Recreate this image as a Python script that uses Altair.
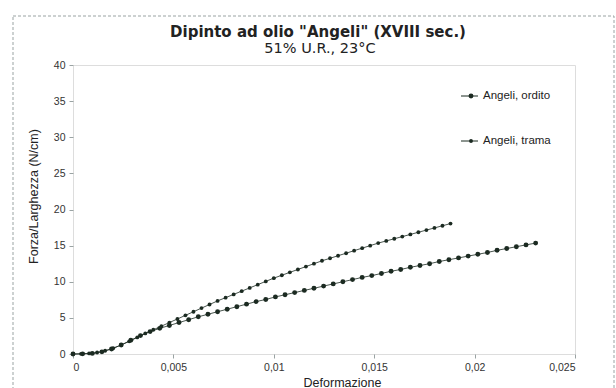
import altair as alt
import pandas as pd

# Tensile test readings: strain (Deformazione) vs force per unit width (N/cm)
series_names = ["Angeli, ordito", "Angeli, trama"]
title_text = 'Dipinto ad olio "Angeli" (XVIII sec.)'
subtitle_text = "51% U.R., 23°C"

ordito_strain = [
    0.0, 0.00048, 0.00096, 0.00144, 0.00192, 0.0024, 0.00288, 0.00336, 0.00384, 0.00432,
    0.0048, 0.00528, 0.00576, 0.00624, 0.00672, 0.0072, 0.00768, 0.00816, 0.00864, 0.00912,
    0.0096, 0.01008, 0.01056, 0.01104, 0.01152, 0.012, 0.01248, 0.01296, 0.01344, 0.01392,
    0.0144, 0.01488, 0.01536, 0.01584, 0.01632, 0.0168, 0.01728, 0.01776, 0.01824, 0.01872,
    0.0192, 0.01968, 0.02016, 0.02064, 0.02112, 0.0216, 0.02208, 0.02256, 0.02304,
]
ordito_force = [
    0.0, 0.02, 0.08, 0.3, 0.7, 1.25, 1.9, 2.55, 3.1, 3.55,
    3.95, 4.35, 4.75, 5.15, 5.5, 5.85, 6.2, 6.55, 6.9, 7.25,
    7.55, 7.9, 8.2, 8.5, 8.8, 9.1, 9.4, 9.7, 10.0, 10.3,
    10.6, 10.85, 11.15, 11.45, 11.7, 12.0, 12.25, 12.5, 12.8, 13.05,
    13.3, 13.55, 13.8, 14.05, 14.35, 14.6, 14.85, 15.1, 15.35,
]

trama_strain = [
    0.0, 0.0004, 0.0008, 0.0012, 0.0016, 0.002, 0.0024, 0.0028, 0.0032, 0.0036,
    0.004, 0.0044, 0.0048, 0.0052, 0.0056, 0.006, 0.0064, 0.0068, 0.0072, 0.0076,
    0.008, 0.0084, 0.0088, 0.0092, 0.0096, 0.01, 0.0104, 0.0108, 0.0112, 0.0116,
    0.012, 0.0124, 0.0128, 0.0132, 0.0136, 0.014, 0.0144, 0.0148, 0.0152, 0.0156,
    0.016, 0.0164, 0.0168, 0.0172, 0.0176, 0.018, 0.0184, 0.0188,
]
trama_force = [
    0.0, 0.02, 0.08, 0.2, 0.45, 0.8, 1.25, 1.75, 2.3, 2.85,
    3.35, 3.85, 4.35, 4.85, 5.35, 5.85, 6.35, 6.85, 7.35, 7.8,
    8.25, 8.7, 9.15, 9.6, 10.05, 10.5, 10.9, 11.3, 11.7, 12.1,
    12.5, 12.9, 13.25, 13.6, 13.95, 14.3, 14.65, 15.0, 15.35, 15.65,
    15.95, 16.25, 16.55, 16.85, 17.15, 17.45, 17.75, 18.05,
]

x_ticks = [0, 0.005, 0.01, 0.015, 0.02, 0.025]
y_ticks = [0, 5, 10, 15, 20, 25, 30, 35, 40]

df = pd.concat(
    [
        pd.DataFrame({"Deformazione": ordito_strain, "Forza": ordito_force, "Serie": series_names[0]}),
        pd.DataFrame({"Deformazione": trama_strain, "Forza": trama_force, "Serie": series_names[1]}),
    ],
    ignore_index=True,
)

FONT = "Liberation Sans"
TITLE_FONT = "DejaVu Sans"
INK = "#1b2a21"
FRAME = "#9aa3a3"
TEXT = "#222222"
SIZE_RANGE = [24, 15]

x_enc = alt.X(
    "Deformazione:Q",
    scale=alt.Scale(domain=[0, 0.025], nice=False, zero=False),
    axis=alt.Axis(
        values=x_ticks,
        labelExpr="replace(format(datum.value, '.3~f'), '.', ',')",
        title="Deformazione",
        domain=False,
        grid=False,
        tickColor=FRAME,
        tickSize=4,
        labelFontSize=10.5,
        labelPadding=4,
        titleFontSize=12.5,
        titleFontWeight="normal",
        titleX=269,
        titleY=32,
        titleAlign="center",
        titleBaseline="alphabetic",
        labelFont=FONT,
        titleFont=FONT,
        labelColor="#333333",
        titleColor=TEXT,
    ),
)
y_enc = alt.Y(
    "Forza:Q",
    scale=alt.Scale(domain=[0, 40], nice=False),
    axis=alt.Axis(
        values=y_ticks,
        title="Forza/Larghezza (N/cm)",
        domain=False,
        grid=False,
        tickColor=FRAME,
        tickSize=4,
        labelFontSize=10.5,
        labelPadding=4,
        titleFontSize=12.5,
        titleFontWeight="normal",
        titleX=-40,
        titleY=131,
        titleAlign="center",
        titleBaseline="middle",
        labelFont=FONT,
        titleFont=FONT,
        labelColor="#333333",
        titleColor=TEXT,
    ),
)

lines = alt.Chart(df).mark_line(color=INK, strokeWidth=0.8).encode(
    x=x_enc, y=y_enc, detail="Serie:N"
)

points = alt.Chart(df).mark_circle(color=INK, opacity=1).encode(
    x=x_enc,
    y=y_enc,
    size=alt.Size("Serie:N", scale=alt.Scale(domain=series_names, range=SIZE_RANGE), legend=None),
)

one_row = pd.DataFrame({"k": [0]})

# Dashed outer frame around the whole figure
outer = alt.Chart(one_row).mark_rect(
    fillOpacity=0, stroke=FRAME, strokeWidth=1, strokeDash=[3, 2]
).encode(x=alt.value(-60), x2=alt.value(541), y=alt.value(-49), y2=alt.value(327))

# Title and subtitle
title = alt.Chart(one_row).mark_text(
    text=title_text, font=TITLE_FONT, fontSize=15, fontWeight="bold", color=TEXT,
    align="center", baseline="middle",
).encode(x=alt.value(245), y=alt.value(-33))
subtitle = alt.Chart(one_row).mark_text(
    text=subtitle_text, font=TITLE_FONT, fontSize=14.5, color=TEXT,
    align="center", baseline="middle",
).encode(x=alt.value(247), y=alt.value(-16))


def legend_entry(name, size, ypos):
    """Line-and-marker key with its label, drawn inside the plot area."""
    rule = alt.Chart(one_row).mark_rule(color=INK, strokeWidth=1).encode(
        x=alt.value(388), x2=alt.value(405), y=alt.value(ypos)
    )
    dot = alt.Chart(one_row).mark_circle(color=INK, opacity=1, size=size).encode(
        x=alt.value(398), y=alt.value(ypos)
    )
    label = alt.Chart(one_row).mark_text(
        text=name, font=FONT, fontSize=11.5, color=TEXT, align="left", baseline="middle"
    ).encode(x=alt.value(410), y=alt.value(ypos))
    return [rule, dot, label]


legend_layers = legend_entry(series_names[0], SIZE_RANGE[0], 31) + legend_entry(
    series_names[1], SIZE_RANGE[1], 76
)

chart = (
    alt.layer(outer, title, subtitle, lines, points, *legend_layers)
    .properties(
        width=502,
        height=289,
        padding={"left": 73, "top": 65, "right": 41, "bottom": 34},
        autosize=alt.AutoSizeParams(type="none"),
    )
    .configure_view(stroke=FRAME, strokeDash=[2, 2], strokeWidth=1)
    .configure(background="white")
)

chart.save("out.html", embed_options={"renderer": "svg", "actions": False})
